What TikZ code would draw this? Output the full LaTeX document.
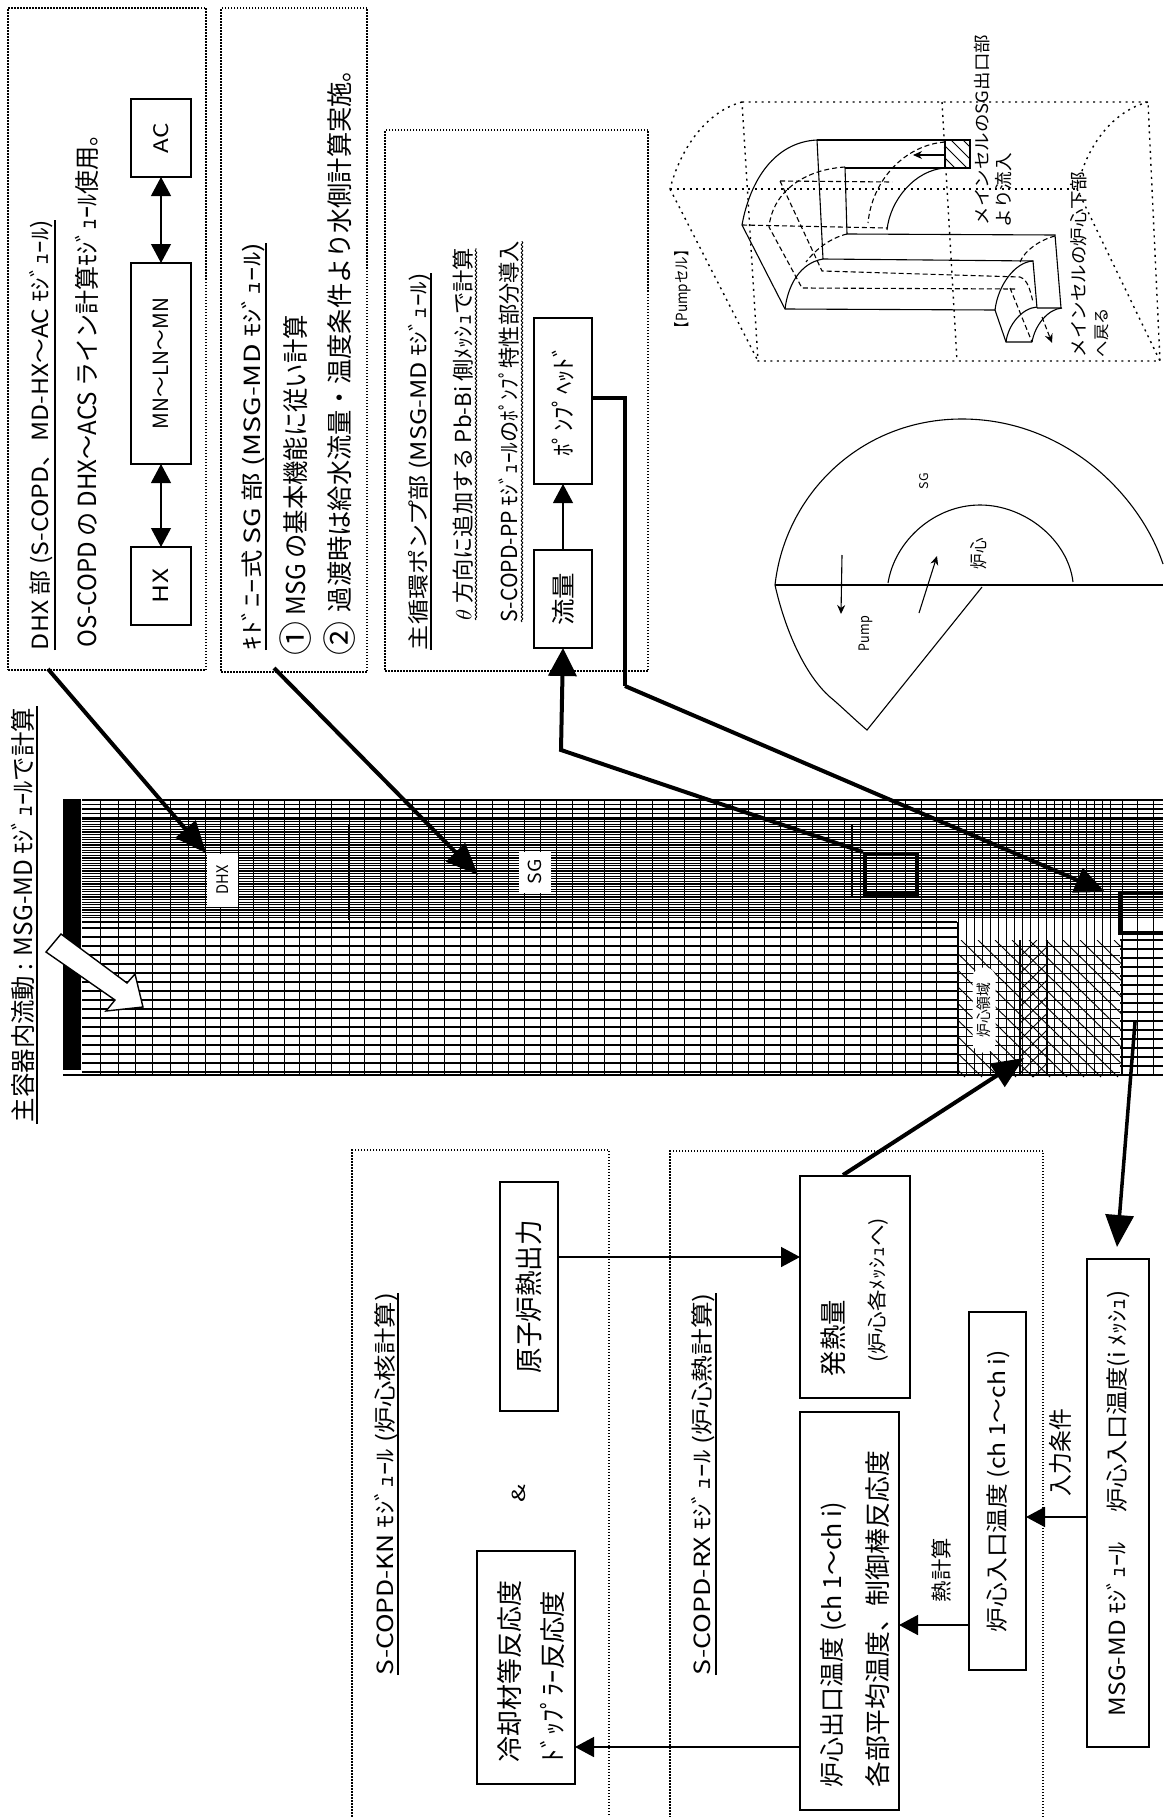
\documentclass[tikz,border=0pt]{standalone}
\usepackage{fontspec}
\usepackage{graphicx}
\setmainfont{Noto Sans CJK JP}
\usetikzlibrary{arrows.meta,decorations.pathmorphing}
% text node: name, x centre, y bottom, y top, glyph height, text
\newcommand\tx[6]{\node[rotate=90,inner sep=0pt,outer sep=0pt] (#1) at (#2,{(#3+#4)/2}) {\resizebox*{\dimexpr#3pt-#4pt\relax}{#5pt}{\rule[-0.12em]{0pt}{1em}#6}};}
% box node: name, x1,y1,x2,y2, text length, glyph height, text
\newcommand\bx[8]{\node[plainbox,minimum width={#4pt-#2pt},minimum height={#5pt-#3pt}] (#1) at ({(#2+#4)/2},{(#3+#5)/2}) {\rotatebox{90}{\resizebox*{#6pt}{#7pt}{\rule[-0.12em]{0pt}{1em}#8}}};}
\newcommand\bxe[5]{\node[plainbox,minimum width={#4pt-#2pt},minimum height={#5pt-#3pt}] (#1) at ({(#2+#4)/2},{(#3+#5)/2}) {};}
\newcommand\dbx[5]{\node[dotbox,minimum width={#4pt-#2pt},minimum height={#5pt-#3pt}] (#1) at ({(#2+#4)/2},{(#3+#5)/2}) {};}
\tikzset{
 plainbox/.style={draw=black,line width=1.5pt,fill=white,inner sep=0pt,outer sep=0pt},
 dotbox/.style={draw=black,line width=1.3pt,dash pattern=on 1.5pt off 1.5pt,inner sep=0pt,outer sep=0pt},
 thinarrow/.style={line width=1.1pt,-{Triangle[length=19pt,width=20pt]}},
 thindouble/.style={line width=1.1pt,{Triangle[length=19pt,width=20pt]}-{Triangle[length=19pt,width=20pt]}},
 fatarrow/.style={line width=4pt,-{Triangle[length=32pt,width=27pt]}},
 uline/.style={line width=1.1pt},
 wavy/.style={line width=0.9pt,decorate,decoration={snake,amplitude=0.8pt,segment length=4pt}},
 dotline/.style={line width=1.4pt,dash pattern=on 2pt off 4.5pt},
 solid3d/.style={line width=1.1pt},
 dash3d/.style={line width=1.1pt,dash pattern=on 5pt off 3pt},
 gridv/.style={line width=1pt},
 gridh/.style={line width=1.5pt},
 gridd/.style={line width=1.15pt},
 hatchline/.style={line width=0.9pt},
}
\begin{document}
\begin{tikzpicture}[x=1pt,y=-1pt]
\useasboundingbox (0,0) rectangle (1163,1817);
\fill[white] (0,0) rectangle (1163,1817);

% ---- vessel mesh
\foreach \yy in {800,804.5,...,818} \draw[gridd] (82,\yy) -- (1163,\yy);
\foreach \yy in {819,821.6,...,920} \draw[gridd] (82,\yy) -- (1163,\yy);
\draw[line width=2.5pt] (82,922) -- (957,922);
\foreach \yy in {928,937,...,1072} \draw[gridh] (82,\yy) -- (958,\yy);
\foreach \yy in {940,949,...,1072} \draw[gridh] (1120,\yy) -- (1163,\yy);
\foreach \yy in {946,955,...,1072} \draw[line width=1pt] (958,\yy) -- (1120,\yy);
\draw[line width=1.5pt] (63,1075) -- (1163,1075);
\foreach \xx in {100,118,135,152,170,188,205,220,238,253,268,284,299,315,331,349,364,380,396,412,428,444,460,476,492,508,524,540,556,572,588,604,620,636,652,668,684,700,716,732,748,764,780,796,812,828,844,860,876,892,905,921,936,958,966,974,982,990,998,1006,1014,1022,1030,1038,1046,1054,1062,1070,1078,1086,1094,1102,1110,1122,1137,1153}
  \draw[gridv] (\xx,800) -- (\xx,1076);
\draw[line width=1.2pt] (349,825) -- (349,920) (852,825) -- (852,897) (958,922) -- (958,1076);
\begin{scope}
\clip (958,940) rectangle (1122,1077);
\foreach \dd in {-150,-133,...,170} \draw[hatchline] (958+\dd,940) -- (958+\dd+140,1077);
\end{scope}
\begin{scope}
\clip (1020,940) rectangle (1047,1077);
\foreach \dd in {0,17,...,220} \draw[hatchline] (1020+\dd,940) -- (1020+\dd-140,1077);
\end{scope}
\draw[line width=1.5pt] (1020,940) -- (1020,1076) (1047,940) -- (1047,1076) (1122,940) -- (1122,1076);
\fill[black] (63,799) rectangle (81,1070);

% white arrow in the mesh
\filldraw[fill=white,draw=black,line width=1.4pt] (61,934) -- (127,983) -- (135,974) -- (143,1007) -- (106,1011) -- (115,1000) -- (46,952) -- cycle;

% mesh labels
\node[fill=white,inner sep=0pt,minimum width=31pt,minimum height=53pt] (dhxlab) at (222,880) {\rotatebox{90}{\resizebox*{29pt}{16pt}{\rule[-0.12em]{0pt}{1em}DHX}}};
\node[fill=white,inner sep=0pt,minimum width=32pt,minimum height=41pt] (sglab) at (535,872) {\rotatebox{90}{\resizebox*{25pt}{18pt}{\rule[-0.12em]{0pt}{1em}SG}}};
\node[fill=white,rounded corners=10pt,inner sep=0pt,minimum width=23pt,minimum height=85pt] (corelab) at (984,1010) {\rotatebox{90}{\resizebox*{55pt}{15pt}{\rule[-0.12em]{0pt}{1em}炉心領域}}};
\node[draw=black,line width=4pt,inner sep=0pt,minimum width=52pt,minimum height=40pt] (smallcell) at (891,874) {};
\draw[line width=4pt] (1163,893) -- (1120,893) -- (1120,933) -- (1163,933);
\coordinate (bigcell) at (1105,892);

% ---- upper dotted panels
\dbx{dhxpanel}{8}{8}{206}{670}
\dbx{sgpanel}{221}{8}{367}{672}
\dbx{pumppanel}{385}{130}{648}{671}

\tx{dhxtitle}{41}{650}{220}{24}{DHX 部 (S-COPD、MD-HX～AC ﾓｼﾞｭｰﾙ)}
\draw[uline] (55,650) -- (55,220);
\tx{dhxline}{87}{647}{122}{25}{OS-COPD の DHX～ACS ライン計算ﾓｼﾞｭｰﾙ使用。}
\bx{hx}{131}{547}{191}{625}{34}{21}{HX}
\bx{mn}{131}{263}{191}{464}{131}{21}{MN～LN～MN}
\bx{ac}{131}{99}{191}{177}{30}{20}{AC}
\draw[thindouble] (hx) -- (mn);
\draw[thindouble] (mn) -- (ac);

\tx{sgtitle}{253}{650}{243}{24}{ｷﾄﾞﾆｰ式 SG 部 (MSG-MD ﾓｼﾞｭｰﾙ)}
\draw[uline] (266,650) -- (266,243);
\tx{sgonemark}{296}{655}{621}{34}{①}
\tx{sgone}{296}{615}{315}{26}{MSG の基本機能に従い計算}
\tx{sgtwomark}{340}{655}{621}{34}{②}
\tx{sgtwo}{340}{612}{57}{26}{過渡時は給水流量・温度条件より水側計算実施。}

\tx{pumptitle}{419}{650}{273}{23}{主循環ポンプ部 (MSG-MD ﾓｼﾞｭｰﾙ)}
\draw[uline] (431,650) -- (431,273);
\tx{thetaline}{463}{620}{248}{22}{$\theta$ 方向に追加する Pb-Bi 側ﾒｯｼｭで計算}
\draw[wavy] (476,620) -- (476,248);
\tx{ppline}{509}{622}{241}{22}{S-COPD-PP ﾓｼﾞｭｰﾙのﾎﾟﾝﾌﾟ特性部分導入}
\draw[wavy] (522,622) -- (522,241);
\bx{flow}{534}{550}{592}{648}{53}{24}{流量}
\bx{head}{534}{318}{592}{484}{111}{24}{ﾎﾟﾝﾌﾟﾍｯﾄﾞ}
\draw[thinarrow] (flow) -- (head);

% long connectors
\coordinate (dhxfoot) at (48,669);
\coordinate (sgfoot) at (274,668);
\coordinate (sgtip) at (478,875);
\coordinate (bend1) at (561,750);
\coordinate (headout) at (625,398);
\coordinate (bend2) at (625,686);
\draw[line width=4pt,-{Triangle[length=32pt,width=26pt]}] (dhxfoot) -- (dhxlab.north west);
\draw[line width=4pt,-{Triangle[length=32pt,width=26pt]}] (sgfoot) -- (sgtip);
\draw[line width=4pt,-{Triangle[length=28pt,width=28pt]}] (smallcell.north west) -- (bend1) -- (flow.south);
\draw[line width=4pt] (head.east |- headout) -- (headout) -- (bend2);
\draw[line width=4pt,-{Triangle[length=30pt,width=26pt]}] (bend2) -- (bigcell);

% ---- half disc sketch
\draw[solid3d] (775,585) -- (1163,585);
\draw[solid3d] (775,585) .. controls (785,495) and (860,419) .. (962,419) .. controls (1065,419) and (1140,495) .. (1163,564);
\draw[solid3d] (888,583) .. controls (895,540) and (935,505) .. (980,505) .. controls (1025,505) and (1068,540) .. (1073,582);
\draw[solid3d] (775,585) .. controls (785,630) and (805,675) .. (830,697) .. controls (842,707) and (855,720) .. (867,730) -- (982,587);
\draw[line width=1.1pt,-{Stealth[length=9pt,width=8pt]}] (842,555) -- (841,614);
\draw[line width=1.1pt,-{Stealth[length=9pt,width=8pt]}] (919,613) -- (937,556);
\tx{discsg}{924}{489}{473}{12}{SG}
\tx{disccore}{979}{569}{538}{18}{炉心}
\tx{discpump}{865}{651}{616}{16}{Pump}

% ---- pump cell sketch
\draw[dotline] (742,102) -- (1148,102) -- (1160,361) -- (758,361) -- cycle;
\draw[dotline] (942,102) -- (957,361);
\draw[dotline] (670,189) -- (1077,189);
\draw[dotline] (670,189) -- (758,361);
\draw[dotline] (1077,189) -- (1160,361);
\draw[dotline] (742,102) .. controls (705,112) and (680,150) .. (670,189);
\draw[dotline] (1148,102) .. controls (1110,112) and (1085,150) .. (1077,189);

\draw[solid3d] (817,140) -- (970,140) -- (970,168) -- (845,168);
\draw[solid3d] (945,140) -- (945,168);
\begin{scope}
\clip (945,140) rectangle (970,168);
\foreach \dd in {-30,-18,...,30} \draw[line width=0.9pt] (945+\dd,140) -- (945+\dd+28,168);
\end{scope}
\draw[solid3d] (817,140) -- (823,259) -- (1033,261) -- (1037,308);
\draw[solid3d] (845,167) -- (847,234) -- (1055,235) -- (1061,308) -- (1037,308);
\draw[solid3d] (817,140) .. controls (775,142) and (750,180) .. (742,225) -- (785,309) -- (995,310) -- (1006,342) -- (1032,342);
\draw[solid3d] (823,259) .. controls (800,263) and (788,285) .. (785,309);
\draw[solid3d] (945,168) .. controls (915,170) and (890,200) .. (887,230);
\draw[solid3d] (1033,261) .. controls (1015,262) and (998,285) .. (995,310);
\draw[solid3d] (1006,342) .. controls (1008,325) and (1022,308) .. (1037,307);
\draw[solid3d] (1032,342) .. controls (1035,325) and (1048,309) .. (1062,308);
\draw[dash3d] (945,142) .. controls (905,145) and (872,180) .. (868,223);
\draw[dash3d] (742,225) -- (887,228);
\draw[dash3d] (780,181) -- (892,182);
\draw[dash3d] (845,167) .. controls (800,170) and (772,195) .. (769,227) -- (802,288) -- (1015,289);
\draw[dash3d] (780,181) -- (822,271) -- (1020,277) .. controls (1028,280) and (1030,290) .. (1033,302);
\draw[dash3d] (1010,288) -- (1032,342);
\draw[dash3d] (1055,236) .. controls (1040,240) and (1025,250) .. (1020,262);
\draw[dash3d] (847,234) .. controls (830,238) and (815,250) .. (806,262);
\draw[line width=1.1pt,dash pattern=on 5pt off 3pt,-{Stealth[length=9pt,width=8pt]}] (1042,317) -- (1052,343);
\draw[line width=1.1pt,-{Stealth[length=9pt,width=8pt]}] (945,155) -- (913,155);

\tx{celltitle}{683}{335}{243}{17}{【Pumpセル】}
\tx{cellsgout}{982}{225}{35}{17}{メインセルのSG出口部}
\tx{cellsgin}{1004}{227}{153}{18}{より流入}
\tx{cellcore}{1079}{357}{172}{18}{メインセルの炉心下部}
\tx{cellback}{1101}{357}{308}{16}{へ戻る}

% ---- vessel title
\tx{vesseltitle}{23}{1122}{708}{25}{主容器内流動 : MSG-MD ﾓｼﾞｭｰﾙで計算}
\draw[uline] (37,1124) -- (37,706);

% ---- lower dotted panels
\dbx{knpanel}{352}{1150}{609}{1900}
\dbx{rxpanel}{670}{1151}{1043}{1900}

\tx{kntitle}{386}{1675}{1293}{24}{S-COPD-KN ﾓｼﾞｭｰﾙ (炉心核計算)}
\draw[uline] (398,1675) -- (398,1293);
\bx{power}{500}{1182}{558}{1411}{153}{28}{原子炉熱出力}
\tx{amp}{519}{1502}{1484}{18}{\&}
\bxe{react}{477}{1551}{575}{1784}
\tx{reactone}{510}{1762}{1580}{26}{冷却材等反応度}
\tx{reacttwo}{553}{1762}{1591}{26}{ﾄﾞｯﾌﾟﾗｰ反応度}

\tx{rxtitle}{703}{1675}{1293}{24}{S-COPD-RX ﾓｼﾞｭｰﾙ (炉心熱計算)}
\draw[uline] (716,1675) -- (716,1293);
\bxe{heat}{800}{1176}{910}{1398}
\tx{heatone}{833}{1376}{1300}{27}{発熱量}
\tx{heattwo}{878}{1362}{1218}{21}{(炉心各ﾒｯｼｭへ)}
\bxe{outlet}{800}{1412}{899}{1810}
\tx{outletone}{833}{1787}{1502}{27}{炉心出口温度 (ch 1～ch i)}
\tx{outlettwo}{878}{1787}{1451}{26}{各部平均温度、制御棒反応度}
\bx{inlet}{969}{1312}{1026}{1670}{282}{24}{炉心入口温度 (ch 1～ch i)}
\bx{md}{1087}{1259}{1149}{1747}{426}{24}{MSG-MD ﾓｼﾞｭｰﾙ\hspace{1.2em}炉心入口温度(i ﾒｯｼｭ)}
\tx{thermal}{942}{1602}{1538}{21}{熱計算}
\tx{inputcond}{1060}{1496}{1409}{24}{入力条件}

\coordinate (lv1) at (0,1257);
\coordinate (lv2) at (0,1625);
\coordinate (lv3) at (0,1517);
\coordinate (lv4) at (0,1747);
\draw[thinarrow,line width=1.5pt] (power.east |- lv1) -- (heat.west |- lv1);
\draw[thinarrow,line width=1.5pt] (inlet.west |- lv2) -- (outlet.east |- lv2);
\draw[thinarrow,line width=1.5pt] (md.west |- lv3) -- (inlet.east |- lv3);
\draw[thinarrow,line width=1.5pt] (outlet.west |- lv4) -- (react.east |- lv4);

\coordinate (corefoot) at (843,1175);
\coordinate (coretip) at (1024,1058);
\draw[fatarrow] (corefoot) -- (coretip);
\coordinate (meshfoot) at (1135,1022);
\coordinate (mdtip) at (1117,1247);
\draw[line width=3.5pt,-{Triangle[length=32pt,width=28pt]}] (meshfoot) -- (mdtip);
\end{tikzpicture}
\end{document}
